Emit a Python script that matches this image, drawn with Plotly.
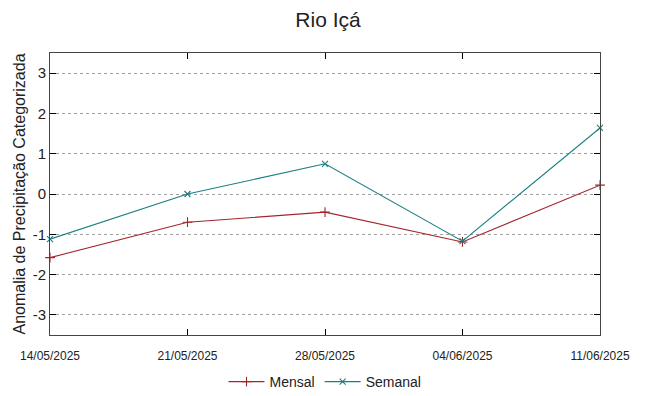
import plotly.graph_objects as go

dates = ["2025-05-14", "2025-05-21", "2025-05-28", "2025-06-04", "2025-06-11"]
tick_labels = ["14/05/2025", "21/05/2025", "28/05/2025", "04/06/2025", "11/06/2025"]
mensal = [-1.58, -0.70, -0.45, -1.19, 0.22]
semanal = [-1.12, 0.00, 0.75, -1.17, 1.64]
y_ticks = [-3, -2, -1, 0, 1, 2, 3]
y_tick_labels = ["-3", "-2", "-1", "0", "1", "2", "3"]

FONT = "Liberation Sans, Arial, sans-serif"

fig = go.Figure()
fig.add_trace(go.Scatter(
    x=dates, y=mensal, name="Mensal", mode="lines+markers",
    line=dict(color="#a3262b", width=1.1),
    marker=dict(symbol="cross-thin", size=7, line=dict(color="#a3262b", width=1.1)),
    cliponaxis=False,
))
fig.add_trace(go.Scatter(
    x=dates, y=semanal, name="Semanal", mode="lines+markers",
    line=dict(color="#1a7f80", width=1.1),
    marker=dict(symbol="x-thin", size=6, line=dict(color="#1a7f80", width=1.1)),
    cliponaxis=False,
))

fig.update_layout(
    width=640, height=388,
    margin=dict(l=42, r=48, t=45, b=61, autoexpand=False),
    paper_bgcolor="white", plot_bgcolor="white",
    font=dict(family=FONT, color="#222222"),
    title=dict(text="Rio Içá", x=0.5, xanchor="center",
               y=0.969, yanchor="middle",
               font=dict(size=21, family=FONT, color="#222222")),
    showlegend=True,
    legend=dict(orientation="h", x=0.5, xanchor="center", yref="container",
                y=0.036, yanchor="middle",
                font=dict(size=14, family=FONT), itemwidth=36,
                bgcolor="rgba(0,0,0,0)"),
    xaxis=dict(
        type="date", range=[dates[0], dates[-1]], automargin=False,
        tickmode="array", tickvals=dates, ticktext=tick_labels,
        ticks="inside", ticklen=6, tickcolor="black", ticklabelstandoff=10,
        showline=True, linecolor="#444444", linewidth=1, mirror="ticks",
        showgrid=False, zeroline=False,
        tickfont=dict(size=12, family=FONT, color="#222222"),
    ),
    yaxis=dict(
        range=[-3.5, 3.5], tickmode="array", tickvals=y_ticks, ticktext=y_tick_labels,
        automargin=False,
        ticks="inside", ticklen=6, tickcolor="black",
        showline=True, linecolor="#444444", linewidth=1, mirror="ticks",
        showgrid=True, gridcolor="#a0a0a0", griddash="dot", gridwidth=1,
        zeroline=False,
        tickfont=dict(size=15, family=FONT, color="#222222"),
        title=dict(text="Anomalia de Precipitação Categorizada", standoff=3,
                   font=dict(size=16, family=FONT, color="#222222")),
    ),
)

fig.write_html("out.html")
